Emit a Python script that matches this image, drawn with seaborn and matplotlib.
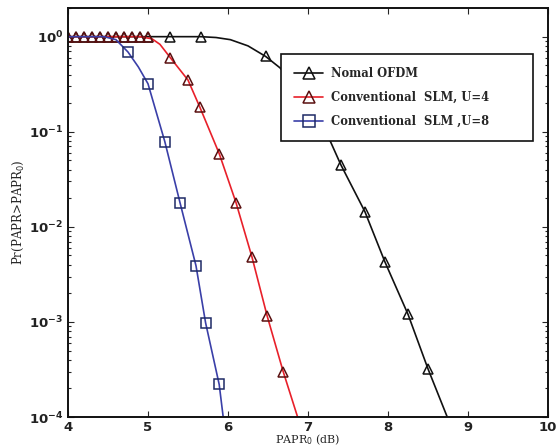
import numpy as np
import pandas as pd
import seaborn as sns
import matplotlib
matplotlib.use("Agg")
import matplotlib.pyplot as plt
from matplotlib.lines import Line2D

# ---- data ----
labels = ["Nomal OFDM", "Conventional  SLM, U=4", "Conventional  SLM ,U=8"]

# curve points (PAPR0 dB, CCDF)
ofdm_x = [4.0, 5.0, 5.66, 5.85, 6.03, 6.25, 6.47, 6.65, 6.85, 7.05, 7.28, 7.41, 7.71, 7.96, 8.25, 8.5, 8.74]
ofdm_y = [1.0, 1.0, 1.0, 0.98, 0.93, 0.8, 0.62, 0.47, 0.3, 0.17, 0.079, 0.045, 0.0145, 0.0043, 0.0012, 0.00032, 0.0001]
slm4_x = [4.0, 4.9, 5.05, 5.15, 5.28, 5.5, 5.65, 5.89, 6.1, 6.3, 6.49, 6.69, 6.87]
slm4_y = [1.0, 1.0, 0.95, 0.83, 0.6, 0.35, 0.18, 0.059, 0.018, 0.0048, 0.00115, 0.0003, 0.0001]
slm8_x = [4.0, 4.45, 4.6, 4.75, 4.88, 5.0, 5.21, 5.4, 5.6, 5.72, 5.89, 5.94]
slm8_y = [1.0, 1.0, 0.93, 0.69, 0.48, 0.32, 0.079, 0.018, 0.0039, 0.00098, 0.00022, 0.0001]

# marker points
ofdm_mx = [4.0, 4.1, 4.2, 4.3, 4.4, 4.5, 4.6, 4.7, 4.8, 4.9, 5.0, 5.27, 5.66, 6.47, 7.41, 7.71, 7.96, 8.25, 8.5]
ofdm_my = [1.0] * 11 + [1.0, 1.0, 0.62, 0.045, 0.0145, 0.0043, 0.0012, 0.00032]
slm4_mx = [4.0, 4.1, 4.2, 4.3, 4.4, 4.5, 4.6, 4.7, 4.8, 4.9, 5.0, 5.28, 5.5, 5.65, 5.89, 6.1, 6.3, 6.49, 6.69]
slm4_my = [1.0] * 11 + [0.6, 0.35, 0.18, 0.059, 0.018, 0.0048, 0.00115, 0.0003]
slm8_mx = [4.75, 5.0, 5.21, 5.4, 5.6, 5.72, 5.89]
slm8_my = [0.69, 0.32, 0.079, 0.018, 0.0039, 0.00098, 0.00022]

x_ticks = [4, 5, 6, 7, 8, 9, 10]
y_ticks = [1e-4, 1e-3, 1e-2, 1e-1, 1e0]

# ---- plotting ----
sns.set_style("ticks")
plt.rcParams["font.family"] = ["DejaVu Sans"]

fig = plt.figure(figsize=(5.57, 4.47), dpi=100)
ax = fig.add_axes([0.122, 0.067, 0.862, 0.915])

line_cols = ["#111111", "#e8202a", "#3a3fa8"]
edge_cols = ["#111111", "#5a1010", "#1e2a66"]
markers = ["^", "^", "s"]

curves = [(ofdm_x, ofdm_y), (slm4_x, slm4_y), (slm8_x, slm8_y)]
marks = [(ofdm_mx, ofdm_my), (slm4_mx, slm4_my), (slm8_mx, slm8_my)]

for i in range(3):
    cx, cy = curves[i]
    df = pd.DataFrame({"x": cx, "y": cy})
    sns.lineplot(data=df, x="x", y="y", ax=ax, color=line_cols[i], lw=1.2,
                 sort=False, estimator=None, legend=False)
    mx, my = marks[i]
    dm = pd.DataFrame({"x": mx, "y": my})
    sns.lineplot(data=dm, x="x", y="y", ax=ax, linestyle="", marker=markers[i],
                 markersize=6.5, markerfacecolor="none", markeredgecolor=edge_cols[i],
                 markeredgewidth=1.1, sort=False, estimator=None, legend=False)

ax.set_yscale("log")
ax.set_xlim(4, 10)
ax.set_ylim(1e-4, 2.0)
ax.set_xticks(x_ticks)
ax.set_xticklabels([str(t) for t in x_ticks], fontsize=9.5, fontweight="bold", color="#222222")
ax.set_yticks(y_ticks)
ax.set_yticklabels([r"$\mathbf{10^{%d}}$" % int(np.log10(t)) for t in y_ticks], fontsize=9.5, color="#222222")
ax.tick_params(direction="in", which="both", top=True, right=True, length=4, width=0.8)
ax.tick_params(axis="x", pad=2.5)
ax.tick_params(which="minor", length=2)
for s in ax.spines.values():
    s.set_linewidth(1.4)
    s.set_color("#111111")

ax.set_xlabel(r"PAPR$_0$ (dB)", fontsize=8, family="DejaVu Serif", labelpad=-0.5)
ax.set_ylabel(r"Pr(PAPR>PAPR$_0$)", fontsize=8.5, family="DejaVu Serif", labelpad=2)

handles = [Line2D([0], [0], color=line_cols[i], lw=1.2, marker=markers[i], markersize=8,
                  markerfacecolor="none", markeredgecolor=edge_cols[i], markeredgewidth=1.1)
           for i in range(3)]
leg = ax.legend(handles, labels, loc="upper left", bbox_to_anchor=(0.444, 0.6725, 0.525, 0.215),
                mode="expand", borderaxespad=0, frameon=True, fancybox=False, edgecolor="#111111",
                framealpha=1.0,
                prop={"family": "DejaVu Serif", "weight": "bold", "size": 8.3},
                handlelength=2.5, handletextpad=0.7, labelspacing=0.95,
                borderpad=1.15)
leg.get_frame().set_linewidth(1.2)

fig.savefig("out.png", dpi=100)
